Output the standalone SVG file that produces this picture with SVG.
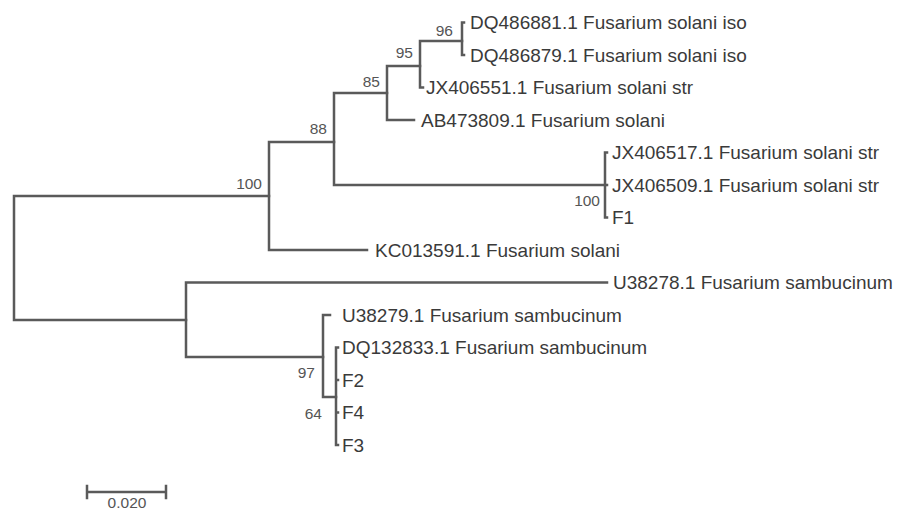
<svg xmlns="http://www.w3.org/2000/svg" width="898" height="511" viewBox="0 0 898 511">
<style>
.br{fill:none;stroke:#5a5a5a;stroke-width:2.5;stroke-linecap:square}
.lf{font-family:"Liberation Sans",Arial,sans-serif;font-size:19px;fill:#3a3a3a}
.bs{font-family:"Liberation Sans",Arial,sans-serif;font-size:15.5px;fill:#555;text-anchor:end}
</style>
<rect width="898" height="511" fill="#fff"/>
<g id="connectors">
<path class="br" d="M14,196V320 M14,196H269 M14,320H186"/>
<path class="br" d="M269,142V250 M269,142H334 M269,250H367"/>
<path class="br" d="M334,93V185 M334,93H387 M334,185H605"/>
<path class="br" d="M387,66V120 M387,66H420 M387,120H414"/>
<path class="br" d="M420,41V87.5 M420,41H462 M420,87.5H423"/>
<path class="br" d="M462,22.5V55 M462,22.5H464 M462,55H464"/>
<path class="br" d="M605,152.5V217.5 M605,152.5H607 M605,185H607 M605,217.5H607"/>
<path class="br" d="M186,282.5V357 M186,282.5H607 M186,357H323"/>
<path class="br" d="M323,315V397 M323,315H330 M323,397H336"/>
<path class="br" d="M336,347.5V445 M336,347.5H338 M336,380H338 M336,412.5H338 M336,445H338"/>
</g>
<g id="leaf-DQ486881"><text class="lf" x="470" y="29">DQ486881.1 Fusarium solani iso</text></g>
<g id="leaf-DQ486879"><text class="lf" x="470" y="61.5">DQ486879.1 Fusarium solani iso</text></g>
<g id="leaf-JX406551"><text class="lf" x="426" y="94">JX406551.1 Fusarium solani str</text></g>
<g id="leaf-AB473809"><text class="lf" x="421" y="126.5">AB473809.1 Fusarium solani</text></g>
<g id="leaf-JX406517"><text class="lf" x="612" y="159">JX406517.1 Fusarium solani str</text></g>
<g id="leaf-JX406509"><text class="lf" x="612" y="191.5">JX406509.1 Fusarium solani str</text></g>
<g id="leaf-F1"><text class="lf" x="612" y="224">F1</text></g>
<g id="leaf-KC013591"><text class="lf" x="375" y="256.5">KC013591.1 Fusarium solani</text></g>
<g id="leaf-U38278"><text class="lf" x="613" y="289">U38278.1 Fusarium sambucinum</text></g>
<g id="leaf-U38279"><text class="lf" x="342" y="321.5">U38279.1 Fusarium sambucinum</text></g>
<g id="leaf-DQ132833"><text class="lf" x="342" y="354">DQ132833.1 Fusarium sambucinum</text></g>
<g id="leaf-F2"><text class="lf" x="342" y="386.5">F2</text></g>
<g id="leaf-F4"><text class="lf" x="342" y="419">F4</text></g>
<g id="leaf-F3"><text class="lf" x="342" y="451.5">F3</text></g>
<g id="support-labels">
<text class="bs" x="453" y="35.5">96</text>
<text class="bs" x="413" y="57.5">95</text>
<text class="bs" x="380" y="86.5">85</text>
<text class="bs" x="327" y="133.5">88</text>
<text class="bs" x="262" y="188.5">100</text>
<text class="bs" x="600" y="205.5">100</text>
<text class="bs" x="315" y="377.5">97</text>
<text class="bs" x="322" y="418.5">64</text>
</g>
<g id="scale-bar">
<path class="br" d="M87,492H166 M87,486V498 M166,486V498"/>
<text class="bs" x="127" y="507.5" style="text-anchor:middle">0.020</text>
</g>
</svg>
